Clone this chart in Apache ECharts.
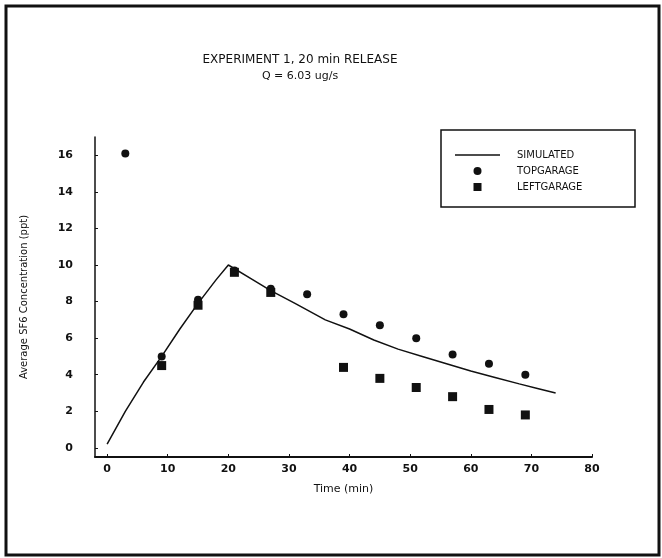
<!DOCTYPE html>
<html>
<head>
<meta charset="utf-8">
<script src="https://cdn.jsdelivr.net/npm/echarts@6/dist/echarts.min.js"></script>
<style>
  html, body { margin: 0; padding: 0; background: #fff; }
  #chart { width: 662px; height: 558px; }
</style>
</head>
<body>
<div id="chart"></div>
<script>
// 数据
const xTicks = [0, 10, 20, 30, 40, 50, 60, 70, 80];
const yTicks = [0, 2, 4, 6, 8, 10, 12, 14, 16];

const simulated = [
  [0, 0.2], [3, 2.0], [6, 3.6], [9, 5.0], [12, 6.5], [15, 7.9], [18, 9.2], [20, 10.0],
  [24, 9.2], [27, 8.6], [31, 7.9], [36, 7.0], [40, 6.5], [44, 5.9], [48, 5.4],
  [52, 5.0], [56, 4.6], [60, 4.2], [64, 3.85], [68, 3.5], [71, 3.25], [74, 3.0]
];
const topGarage = [
  [3, 16.1], [9, 5.0], [15, 8.1], [21, 9.7], [27, 8.7], [33, 8.4],
  [39, 7.3], [45, 6.7], [51, 6.0], [57, 5.1], [63, 4.6], [69, 4.0]
];
const leftGarage = [
  [9, 4.5], [15, 7.8], [21, 9.6], [27, 8.5], [39, 4.4], [45, 3.8],
  [51, 3.3], [57, 2.8], [63, 2.1], [69, 1.8]
];

let chart = echarts.init(document.getElementById('chart'));

let font = 'DejaVu Sans';
let ink = '#111';

let option = {
  backgroundColor: '#fff',
  animation: false,
  textStyle: { fontFamily: font, color: ink },
  grid: {
    left: 95,
    right: 70,
    top: 137,
    bottom: 101
  },
  legend: {
    orient: 'vertical',
    left: 440,
    top: 149,
    padding: [0, 0, 0, 15],
    itemWidth: 45,
    itemHeight: 8,
    itemGap: 4,
    symbolKeepAspect: true,
    textStyle: { fontSize: 10, color: ink, padding: [0, 0, 0, 12], lineHeight: 12 },
    data: [
      { name: 'SIMULATED', icon: 'path://M0 0H45V1.6H0Z' },
      { name: 'TOPGARAGE', icon: 'circle' },
      { name: 'LEFTGARAGE', icon: 'path://M0 0H10V10H0Z' }
    ]
  },
  xAxis: {
    type: 'value',
    min: -2,
    max: 80,
    name: 'Time (min)',
    nameLocation: 'middle',
    nameGap: 27,
    nameTextStyle: { fontSize: 11, color: ink },
    splitLine: { show: false },
    axisLine: { onZero: false, lineStyle: { color: ink, width: 2 } },
    axisTick: { inside: true, length: 3, customValues: xTicks, lineStyle: { color: ink } },
    axisLabel: { customValues: xTicks, fontSize: 11, color: ink, margin: 7, fontWeight: 'bold' }
  },
  yAxis: {
    type: 'value',
    min: -0.5,
    max: 17,
    name: 'Average SF6 Concentration (ppt)',
    nameLocation: 'middle',
    nameGap: 66,
    nameTextStyle: { fontSize: 10, color: ink },
    splitLine: { show: false },
    axisLine: { onZero: false, lineStyle: { color: ink, width: 1.5 } },
    axisTick: { inside: true, length: 3, customValues: yTicks, lineStyle: { color: ink } },
    axisLabel: { customValues: yTicks, fontSize: 11, color: ink, margin: 22, fontWeight: 'bold' }
  },
  graphic: [
    {
      type: 'rect',
      shape: { x: 6, y: 6, width: 653, height: 549 },
      style: { fill: 'none', stroke: ink, lineWidth: 3 }
    },
    {
      type: 'rect',
      shape: { x: 441, y: 130, width: 194, height: 77 },
      style: { fill: 'none', stroke: ink, lineWidth: 1.5 }
    },
    {
      type: 'text',
      x: 300, y: 60,
      style: { text: 'EXPERIMENT 1, 20 min RELEASE', fontSize: 12, fontFamily: font, fill: ink, align: 'center', verticalAlign: 'middle' }
    },
    {
      type: 'text',
      x: 300, y: 76,
      style: { text: 'Q = 6.03 ug/s', fontSize: 11, fontFamily: font, fill: ink, align: 'center', verticalAlign: 'middle' }
    }
  ],
  series: [
    {
      name: 'SIMULATED',
      type: 'line',
      data: simulated,
      showSymbol: false,
      symbol: 'none',
      smooth: false,
      lineStyle: { color: ink, width: 1.5 },
      itemStyle: { color: ink }
    },
    {
      name: 'TOPGARAGE',
      type: 'scatter',
      data: topGarage,
      symbol: 'circle',
      symbolSize: 8,
      itemStyle: { color: ink, opacity: 1 }
    },
    {
      name: 'LEFTGARAGE',
      type: 'scatter',
      data: leftGarage,
      symbol: 'rect',
      symbolSize: 9,
      itemStyle: { color: ink, opacity: 1 }
    }
  ]
};

chart.setOption(option, true);
</script>
</body>
</html>
